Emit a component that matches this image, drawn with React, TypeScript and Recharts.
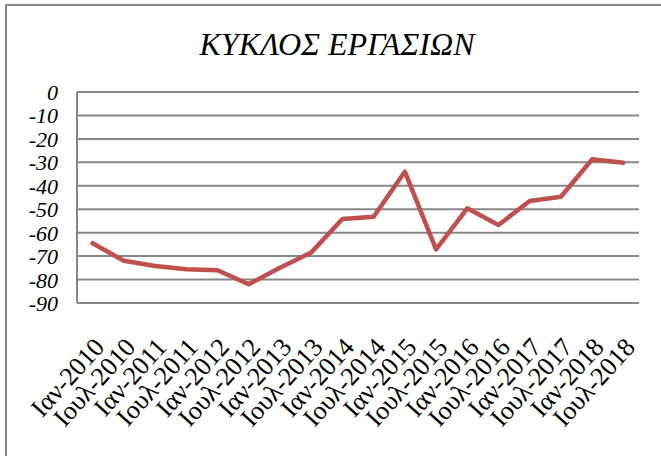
import { LineChart, Line, XAxis, YAxis, CartesianGrid } from 'recharts'

const periods = [
  'Ιαν-2010', 'Ιουλ-2010', 'Ιαν-2011', 'Ιουλ-2011', 'Ιαν-2012', 'Ιουλ-2012',
  'Ιαν-2013', 'Ιουλ-2013', 'Ιαν-2014', 'Ιουλ-2014', 'Ιαν-2015', 'Ιουλ-2015',
  'Ιαν-2016', 'Ιουλ-2016', 'Ιαν-2017', 'Ιουλ-2017', 'Ιαν-2018', 'Ιουλ-2018',
]

const turnover = [
  -64.5, -72, -74.2, -75.6, -76, -82, -75, -68.5, -54.2,
  -53.2, -34, -67.1, -49.6, -56.7, -46.5, -44.7, -28.7, -30.2,
]

const levelTicks = [0, -10, -20, -30, -40, -50, -60, -70, -80, -90]

const data = periods.map((period, i) => ({ period, value: turnover[i] }))

const GRID = '#878787'
const FONT = "'Liberation Serif', 'Times New Roman', serif"

function PeriodTick({ x, y, payload }: any) {
  return (
    <text
      transform={`translate(${x + 13},${y + 45}) rotate(-48)`}
      textAnchor="end"
      fontSize={26}
      fontFamily={FONT}
      fill="#000"
    >
      {payload.value}
    </text>
  )
}

function LevelTick({ x, y, payload }: any) {
  return (
    <text
      x={x - 19}
      y={y}
      dy={8}
      textAnchor="end"
      fontSize={22}
      fontStyle="italic"
      fontFamily={FONT}
      fill="#000"
    >
      {payload.value}
    </text>
  )
}

export default function App() {
  return (
    <div style={{ position: 'absolute', left: 0, top: 0, width: 661, height: 456, overflow: 'hidden', background: '#fff' }}>
      <div
        style={{
          position: 'absolute', left: 5, top: 4, width: 720, height: 520,
          border: `2px solid ${GRID}`, boxSizing: 'border-box',
        }}
      />
      <div
        style={{
          position: 'absolute', left: 0, top: 24, width: 674, textAlign: 'center',
          fontFamily: FONT, fontStyle: 'italic',
          fontSize: 32, lineHeight: '40px', color: '#000',
        }}
      >
        ΚΥΚΛΟΣ ΕΡΓΑΣΙΩΝ
      </div>
      <div style={{ position: 'absolute', left: 0, top: 0 }}>
        <LineChart width={661} height={456} data={data} margin={{ top: 92, right: 22, bottom: 53, left: 17 }}>
          <CartesianGrid vertical={false} stroke={GRID} strokeWidth={2} />
          <XAxis
            dataKey="period"
            scale="point"
            padding={{ left: 15.6, right: 15.6 }}
            height={100}
            interval={0}
            tick={<PeriodTick />}
            tickLine={false}
            tickSize={0}
            tickMargin={0}
            axisLine={{ stroke: GRID, strokeWidth: 2 }}
          />
          <YAxis
            domain={[-90, 0]}
            ticks={levelTicks}
            width={60}
            interval={0}
            tick={<LevelTick />}
            tickLine={false}
            tickSize={0}
            tickMargin={0}
            axisLine={{ stroke: GRID, strokeWidth: 2 }}
          />
          <Line
            type="linear"
            dataKey="value"
            stroke="#C0504D"
            strokeWidth={4.5}
            strokeLinejoin="round"
            strokeLinecap="round"
            dot={false}
            isAnimationActive={false}
          />
        </LineChart>
      </div>
    </div>
  )
}
